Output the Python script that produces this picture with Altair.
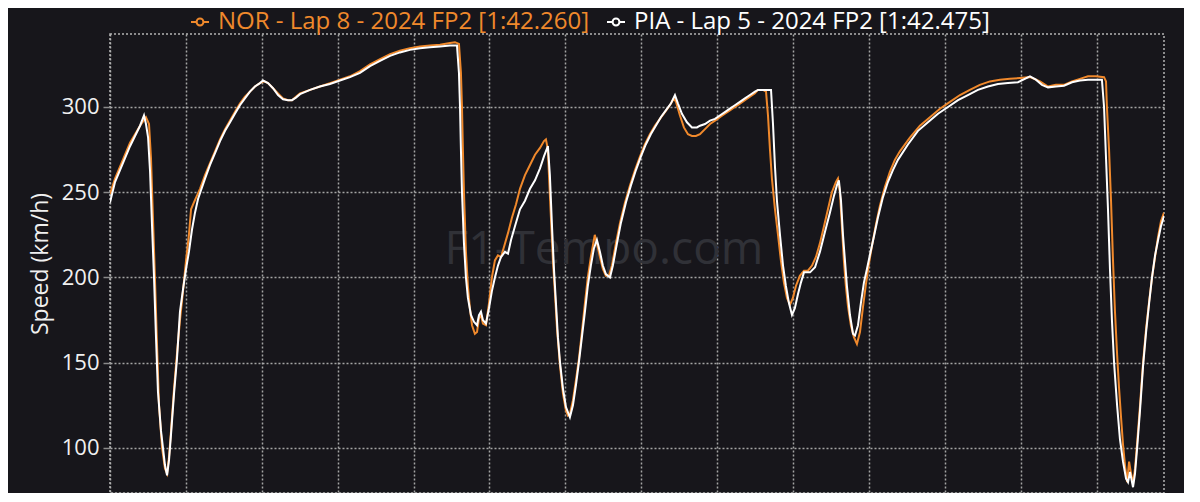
import altair as alt
import pandas as pd

NOR_LABEL = "NOR - Lap 8 - 2024 FP2 [1:42.260]"
PIA_LABEL = "PIA - Lap 5 - 2024 FP2 [1:42.475]"
SERIES = [NOR_LABEL, PIA_LABEL]
COLORS = ["#f0892c", "#ffffff"]

nor_dist = [0, 33, 66, 99, 132, 165, 198, 237, 257, 270, 283, 296, 310, 323, 343, 362, 376, 389, 402, 422,
            441, 461, 481, 501, 520, 534, 553, 573, 593, 626, 659, 692, 725, 758, 791, 823, 856, 889, 922, 955,
            988, 1015, 1041, 1074, 1107, 1140, 1173, 1199, 1225, 1252, 1318, 1383, 1449, 1515, 1581, 1647, 1713,
            1779, 1845, 1910, 1976, 2042, 2108, 2174, 2240, 2273, 2299, 2312, 2319, 2325, 2332, 2345, 2358, 2371,
            2385, 2404, 2418, 2431, 2444, 2457, 2477, 2497, 2516, 2536, 2556, 2576, 2596, 2622, 2648, 2675, 2701,
            2734, 2767, 2800, 2833, 2859, 2872, 2885, 2892, 2905, 2918, 2932, 2945, 2965, 2984, 3004, 3017, 3030,
            3050, 3070, 3089, 3109, 3129, 3148, 3168, 3188, 3194, 3208, 3228, 3247, 3267, 3287, 3307, 3333, 3360,
            3393, 3426, 3459, 3492, 3524, 3557, 3590, 3623, 3656, 3689, 3715, 3729, 3755, 3781, 3808, 3834, 3860,
            3887, 3920, 3953, 3986, 4018, 4051, 4084, 4117, 4150, 4183, 4216, 4249, 4269, 4302, 4322, 4335, 4348,
            4361, 4381, 4401, 4420, 4440, 4460, 4480, 4499, 4519, 4545, 4572, 4598, 4625, 4651, 4677, 4704, 4730,
            4756, 4783, 4796, 4809, 4822, 4835, 4848, 4862, 4881, 4901, 4921, 4941, 4960, 4980, 5000, 5019, 5046,
            5072, 5105, 5138, 5171, 5204, 5270, 5336, 5402, 5468, 5534, 5600, 5665, 5731, 5797, 5863, 5929, 5995,
            6061, 6127, 6180, 6232, 6285, 6338, 6390, 6443, 6496, 6549, 6562, 6568, 6582, 6595, 6608, 6621, 6635,
            6648, 6661, 6674, 6687, 6701, 6714, 6727, 6740, 6753, 6767, 6786, 6806, 6826, 6846, 6865, 6885, 6905,
            6924, 6944]
nor_speed = [249, 258, 265, 272, 279, 284, 289, 294, 290, 270, 235, 200, 160, 125, 100, 88, 85, 95, 110, 135,
             155, 175, 192, 210, 225, 240, 244, 248, 252, 260, 267, 274, 281, 287, 292, 297, 302, 306, 309, 312,
             314, 315, 314, 311, 308, 305, 304, 304, 306, 308, 310, 312, 314, 316, 318, 321, 325,
             328, 331, 333, 334.5, 335.5, 336, 336.5, 337.5, 338, 337, 320, 300, 275, 250, 215, 195, 182,
             172, 167, 168, 176, 178, 173, 172, 185, 200, 210, 213, 212, 218, 226, 235, 243, 252,
             260, 266, 272, 276, 280, 281, 275, 260, 235, 210, 190, 170, 148, 132, 122, 119, 120,
             128, 140, 152, 168, 185, 200, 212, 222, 225, 220, 212, 205, 201, 201, 207, 220, 232,
             244, 254, 263, 271, 278, 284, 289, 293, 297, 301, 305, 303, 295, 288, 284, 283, 283,
             284, 287, 290, 292, 294, 296, 298, 300, 302, 304, 306, 308, 310, 310, 309, 295, 275,
             258, 240, 225, 210, 197, 188, 184, 188, 195, 201, 204, 204, 207, 212, 220, 230, 240,
             250, 256, 258, 250, 230, 210, 195, 183, 172, 165, 161, 168, 182, 196, 208, 218, 231,
             242, 253, 262, 269, 274, 282, 289, 294, 299, 303, 307, 310, 313, 315, 316, 316.5, 317,
             317.5, 315, 312, 313, 313, 315, 316.5, 318, 318, 317.5, 315, 300, 275, 245, 210, 180, 155,
             135, 118, 102, 90, 80, 92, 85, 79, 88, 103, 125, 150, 170, 186, 200, 212, 224,
             233, 238]

pia_dist = [0, 33, 66, 99, 132, 165, 198, 224, 237, 251, 264, 277, 290, 303, 316, 336, 349, 362, 376, 389,
            402, 422, 441, 461, 481, 501, 520, 540, 560, 580, 599, 626, 659, 692, 725, 758, 791, 823, 856, 889,
            922, 955, 988, 1008, 1041, 1074, 1107, 1140, 1173, 1199, 1225, 1252, 1318, 1383, 1449, 1515, 1581,
            1647, 1713, 1779, 1845, 1910, 1976, 2042, 2108, 2174, 2240, 2286, 2299, 2306, 2312, 2319, 2332, 2345,
            2358, 2378, 2398, 2418, 2431, 2444, 2457, 2477, 2497, 2516, 2536, 2556, 2576, 2602, 2622, 2642, 2668,
            2701, 2734, 2767, 2800, 2833, 2859, 2885, 2898, 2912, 2925, 2938, 2951, 2965, 2984, 3004, 3030, 3050,
            3070, 3089, 3109, 3129, 3148, 3168, 3188, 3208, 3228, 3247, 3267, 3294, 3313, 3340, 3366, 3399, 3432,
            3465, 3498, 3530, 3563, 3596, 3629, 3662, 3695, 3722, 3742, 3768, 3801, 3834, 3867, 3887, 3920, 3953,
            3986, 4018, 4051, 4084, 4117, 4150, 4183, 4216, 4249, 4269, 4355, 4368, 4381, 4394, 4414, 4434, 4453,
            4473, 4493, 4512, 4532, 4552, 4572, 4612, 4645, 4677, 4711, 4743, 4770, 4789, 4802, 4816, 4829, 4842,
            4855, 4875, 4895, 4908, 4928, 4947, 4967, 4987, 5006, 5033, 5059, 5092, 5125, 5158, 5191, 5257, 5323,
            5389, 5455, 5521, 5587, 5652, 5718, 5784, 5850, 5916, 5982, 6061, 6100, 6140, 6180, 6232, 6285, 6338,
            6390, 6443, 6490, 6535, 6549, 6562, 6575, 6588, 6601, 6615, 6635, 6654, 6674, 6694, 6707, 6720, 6740,
            6753, 6767, 6786, 6806, 6826, 6846, 6865, 6885, 6905, 6924, 6944]
pia_speed = [244, 256, 263, 270, 277, 283, 289, 295, 290, 282, 262, 230, 200, 165, 133, 110, 100, 90, 84, 93,
             108, 132, 152, 180, 193, 205, 215, 228, 238, 246, 251, 258, 266, 273, 280, 286, 291, 296, 301, 305,
             309, 312, 314, 315.5, 314, 311, 307, 304.5, 304, 304, 305.5, 307.5, 310, 312, 313.5, 315.5, 317.5,
             320, 324, 327, 330, 332, 333.5, 334.5, 335, 335.5, 336, 336, 320, 300, 275, 250, 220, 200,
             188, 178, 174, 172, 178, 180, 175, 173, 182, 192, 200, 207, 212, 215, 214, 222, 230,
             240, 245, 252, 257, 264, 271, 277, 260, 230, 205, 185, 165, 150, 135, 124, 118, 125,
             137, 150, 165, 180, 195, 207, 217, 222, 215, 207, 202, 200, 207, 220, 232, 244, 254,
             263, 271, 278, 284, 289, 294, 298, 302, 307, 302, 296, 291, 288, 288, 289, 290, 292,
             293, 295, 297, 299, 301, 303, 305, 307, 309, 310, 310, 290, 265, 245, 225, 207, 195,
             185, 178, 182, 190, 197, 203, 203, 206, 215, 227, 238, 248, 254, 257, 245, 225, 210,
             195, 178, 167, 166, 172, 185, 197, 205, 213, 224, 235, 247, 256, 263, 269, 278, 286,
             291, 296, 300, 304, 307, 310, 312, 313.5, 314, 314.5, 318, 316, 313, 311.5, 312, 312.5, 314.5,
             315.5, 316, 316, 316, 300, 270, 240, 205, 175, 150, 125, 105, 92, 82, 80, 86, 77,
             85, 100, 122, 148, 168, 185, 200, 213, 222, 230, 236]

x_ticks = [0, 500, 1000, 1500, 2000, 2500, 3000, 3500, 4000, 4500, 5000, 5500, 6000, 6500]
y_ticks = [100, 150, 200, 250, 300]
x_domain = [0, 6944]
y_domain = [73.6, 342.8]
watermark = ["F1-Tempo.com"]

rows = []
for d, s in zip(nor_dist, nor_speed):
    rows.append({"dist": d, "speed": s, "series": NOR_LABEL})
for d, s in zip(pia_dist, pia_speed):
    rows.append({"dist": d, "speed": s, "series": PIA_LABEL})
df = pd.DataFrame(rows)

BG = "#17161b"
GRID = "#b4b4b4"
FONT = "Open Sans"

legend_path = ("M-1,0H-0.38M0.38,0H1M0.38,0A0.38,0.38,0,1,1,-0.38,0"
               "A0.38,0.38,0,1,1,0.38,0Z")

x_enc = alt.X("dist:Q",
              scale=alt.Scale(domain=x_domain, nice=False, zero=False),
              axis=alt.Axis(values=x_ticks, labels=False, title=None, grid=True,
                            ticks=False, domain=True, domainColor="#8a8a8a",
                            domainWidth=1.5))
y_enc = alt.Y("speed:Q",
              scale=alt.Scale(domain=y_domain, nice=False, zero=False),
              axis=alt.Axis(values=y_ticks, title="Speed (km/h)", grid=True,
                            domain=False, ticks=True, tickColor="#8a8a8a",
                            tickSize=7, tickWidth=1.5, labelPadding=4,
                            labelColor="#f0f0f0", labelFontSize=22, labelFont=FONT,
                            titleColor="#f0f0f0", titleFontSize=23, titleFont=FONT,
                            titleFontWeight="normal", titlePadding=9))
color_enc = alt.Color(
    "series:N",
    scale=alt.Scale(domain=SERIES, range=COLORS),
    legend=alt.Legend(
        title=None, orient="none", legendX=78, legendY=-24, direction="horizontal",
        symbolType=legend_path, symbolSize=324, symbolStrokeWidth=2,
        symbolFillColor=BG, labelFont=FONT, labelFontSize=24,
        labelColor=alt.ExprRef("indexof(datum.label, 'NOR') === 0 ? '#f0892c' : '#ffffff'"),
        labelOffset=6, columnPadding=14, padding=0, labelLimit=0),
)

wm = alt.Chart(pd.DataFrame({"t": watermark})).mark_text(
    font=FONT, fontSize=46, color="#303137", align="center", baseline="middle"
).encode(text="t:N", x=alt.value(494), y=alt.value(216))

base = alt.Chart(df)
nor = base.transform_filter(alt.datum.series == NOR_LABEL).mark_line(
    strokeWidth=2, clip=True).encode(x=x_enc, y=y_enc, color=color_enc)
pia = base.transform_filter(alt.datum.series == PIA_LABEL).mark_line(
    strokeWidth=2, clip=True).encode(x=x_enc, y=y_enc, color=color_enc)

chart = alt.layer(wm, nor, pia).properties(
    width=1054, height=459, background=BG,
    autosize=alt.AutoSizeParams(type="none"),
    padding={"left": 102, "top": 26, "right": 20, "bottom": 0},
).configure_view(
    stroke=GRID, strokeDash=[2, 2], strokeWidth=1.5
).configure_axis(
    gridColor=GRID, gridDash=[2, 2], gridWidth=1.5, gridOpacity=0.9
)

chart.save("out.html", embed_options={"renderer": "svg", "actions": False})
